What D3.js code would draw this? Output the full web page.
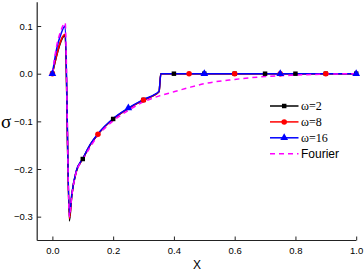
<!DOCTYPE html>
<html lang="en">
<head>
    <meta charset="UTF-8">
    <title>Stress sigma vs X</title>
    <style>
        body { margin: 0; background: white; }
        svg { display: block; }
        .tick text { font-family: Arial, "Liberation Sans", sans-serif; font-size: 9.5px; fill: #000; }
    </style>
</head>
<body>
<svg></svg>
<script src="https://cdn.jsdelivr.net/npm/d3@7"></script>
<script>
    // DATA
    const seriesNames = ["ω=2", "ω=8", "ω=16", "Fourier"];

    // curves, [x, sigma]
    const omega2Line = [[0,0],[0.042,0.080],[0.056,-0.309],[0.064,-0.255],[0.078,-0.207],[0.1,-0.179],
        [0.125,-0.149],[0.15,-0.127],[0.2,-0.095],[0.25,-0.073],[0.3,-0.055],[0.351,-0.038],[0.357,0],[1.0,0]];
    const omega8Line = [[0,0],[0.042,0.083],[0.056,-0.304],[0.064,-0.254],[0.078,-0.206],[0.1,-0.179],
        [0.125,-0.149],[0.15,-0.127],[0.2,-0.095],[0.25,-0.073],[0.3,-0.055],[0.351,-0.038],[0.357,0],[1.0,0]];
    const omega16Line = [[0,0],[0.014,0.052],[0.028,0.083],[0.042,0.100],[0.056,-0.296],[0.064,-0.252],[0.078,-0.205],
        [0.1,-0.178],[0.125,-0.148],[0.15,-0.126],[0.2,-0.094],[0.25,-0.072],[0.3,-0.054],[0.351,-0.037],[0.357,0],[1.0,0]];
    const fourierLine = [[0,0],[0.014,0.058],[0.028,0.090],[0.042,0.107],[0.056,-0.300],[0.064,-0.256],[0.078,-0.208],
        [0.1,-0.181],[0.15,-0.130],[0.2,-0.099],[0.25,-0.077],[0.3,-0.059],[0.35,-0.047],[0.4,-0.038],[0.45,-0.029],
        [0.5,-0.021],[0.6,-0.012],[0.7,-0.006],[0.8,-0.003],[0.9,-0.001],[1.0,0]];

    // symbols on each curve
    const omega2Marks = [[0,0],[0.1,-0.179],[0.2,-0.095],[0.3,-0.055],[0.4,0],[0.5,0],[0.6,0],[0.7,0],[0.8,0],[0.9,0],[1.0,0]];
    const omega8Marks = [[0,0],[0.15,-0.127],[0.3,-0.055],[0.45,0],[0.6,0],[0.75,0],[0.9,0]];
    const omega16Marks = [[0,0],[0.25,-0.072],[0.5,0],[0.75,0],[1.0,0]];

    const xTicks = [0, 0.2, 0.4, 0.6, 0.8, 1.0];
    const xMinor = [0.1, 0.3, 0.5, 0.7, 0.9];
    const yTicks = [-0.3, -0.2, -0.1, 0.0, 0.1];
    const yMinor = [-0.35, -0.25, -0.15, -0.05, 0.05, 0.15];

    // CHART
    const dim = {width: 364, height: 274};
    const svg = d3.select("svg").attr("width", dim.width).attr("height", dim.height);

    const xScale = d3.scaleLinear().domain([-0.05, 1.0]).range([37.2, 356.2]);
    const yScale = d3.scaleLinear().domain([-0.35, 0.15]).range([240.5, 2.2]);

    // AXES, ticks pointing inwards
    const xAxisG = svg.append("g").attr("transform", `translate(0,${yScale.range()[0]})`);
    xAxisG.call(d3.axisBottom(xScale).tickValues(xMinor).tickSize(-2).tickFormat(""));
    xAxisG.call(d3.axisBottom(xScale).tickValues(xTicks).tickSize(-4).tickPadding(6.5)
        .tickFormat(d3.format(".1f")));

    const yAxisG = svg.append("g").attr("transform", `translate(${xScale.range()[0]},0)`);
    yAxisG.call(d3.axisLeft(yScale).tickValues(yMinor).tickSize(-2).tickFormat(""));
    yAxisG.call(d3.axisLeft(yScale).tickValues(yTicks).tickSize(-4).tickPadding(4.5)
        .tickFormat(d3.format(".1f")));

    svg.selectAll(".domain").attr("stroke", "#222").attr("stroke-width", 1.2);
    svg.selectAll(".tick line").attr("stroke", "#222").attr("stroke-width", 1);
    // plain axis lines, no outer ticks
    xAxisG.selectAll(".domain").attr("d", `M${xScale.range()[0]},0H${xScale.range()[1]}`);
    yAxisG.selectAll(".domain").attr("d", `M0,${yScale.range()[0]}V${yScale.range()[1]}`);

    // axis titles
    svg.append("text").attr("x", 197).attr("y", 268.5)
        .attr("text-anchor", "middle")
        .style("font-family", "Arial, 'Liberation Sans', sans-serif").style("font-size", "12px")
        .text("X");
    svg.append("text").attr("x", 1).attr("y", 128)
        .style("font-family", "'Times New Roman', 'Liberation Serif', serif").style("font-size", "19px")
        .text("σ");

    // LINES
    const line = d3.line().x(d => xScale(d[0])).y(d => yScale(d[1])).curve(d3.curveMonotoneX);
    const styles = [
        {data: omega2Line, marks: omega2Marks, color: "#000000", sym: d3.symbolSquare, size: 20},
        {data: omega8Line, marks: omega8Marks, color: "#ff0000", sym: d3.symbolCircle, size: 24},
        {data: omega16Line, marks: omega16Marks, color: "#0000ff", sym: d3.symbolTriangle, size: 26}
    ];

    const plot = svg.append("g");
    styles.forEach(s => {
        plot.append("path").datum(s.data)
            .attr("d", line)
            .attr("fill", "none").attr("stroke", s.color).attr("stroke-width", 1.5);
    });
    plot.append("path").datum(fourierLine)
        .attr("d", line)
        .attr("fill", "none").attr("stroke", "#ff00ff").attr("stroke-width", 1.5)
        .attr("stroke-dasharray", "5,4");
    styles.forEach(s => {
        plot.selectAll(null).data(s.marks).join("path")
            .attr("transform", d => `translate(${xScale(d[0])},${yScale(d[1])})`)
            .attr("d", d3.symbol(s.sym, s.size))
            .attr("fill", s.color);
    });

    // LEGEND
    const legend = svg.append("g").attr("transform", "translate(270,106)");
    seriesNames.forEach((name, i) => {
        const g = legend.append("g").attr("transform", `translate(0,${i * 15.9})`);
        const color = i < 3 ? styles[i].color : "#ff00ff";
        g.append("line").attr("x1", 0).attr("x2", 28.5).attr("y1", 0).attr("y2", 0)
            .attr("stroke", color).attr("stroke-width", 1.5)
            .attr("stroke-dasharray", i === 3 ? "5,4" : null);
        if (i < 3) {
            g.append("path").attr("transform", "translate(14.2,0)")
                .attr("d", d3.symbol(styles[i].sym, styles[i].size)).attr("fill", color);
        }
        g.append("text").attr("x", 31).attr("y", 4.3)
            .style("font-family", i < 3 ? "'Times New Roman', 'Liberation Serif', serif" : "Arial, 'Liberation Sans', sans-serif")
            .style("font-size", "12px")
            .text(name);
    });
</script>
</body>
</html>
